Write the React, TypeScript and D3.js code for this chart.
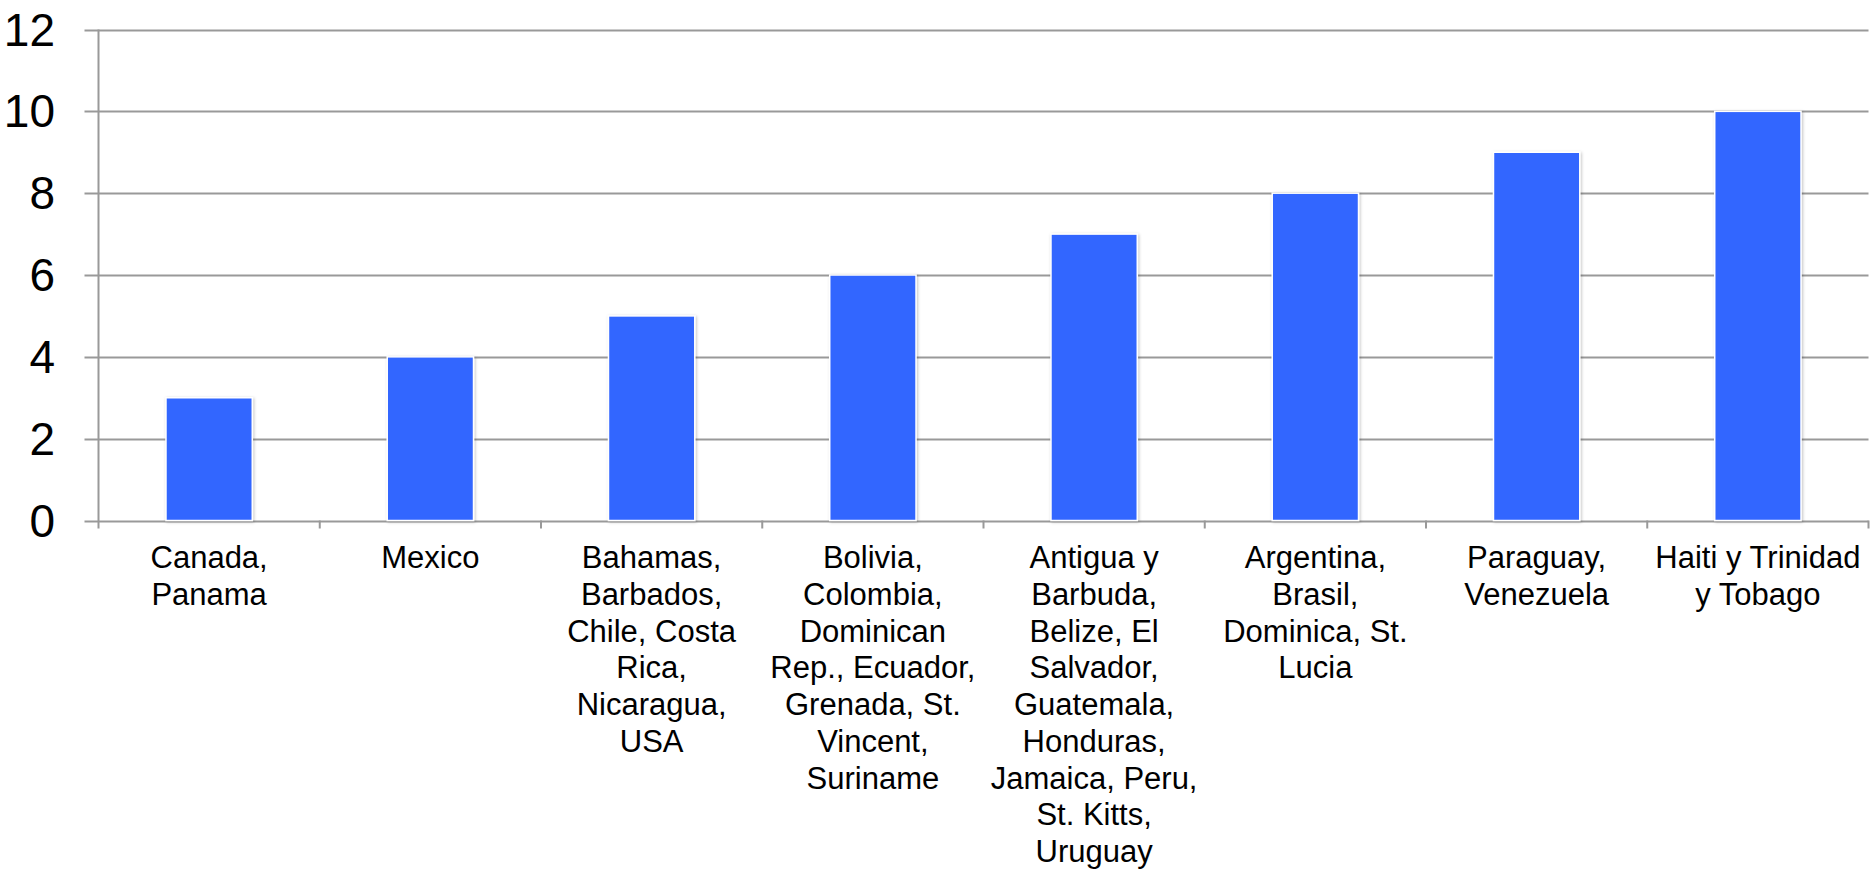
import React, { useRef, useEffect } from 'react';
import * as d3 from 'd3';

const CATEGORIES: string[] = [
  'Canada,\nPanama',
  'Mexico',
  'Bahamas,\nBarbados,\nChile, Costa\nRica,\nNicaragua,\nUSA',
  'Bolivia,\nColombia,\nDominican\nRep., Ecuador,\nGrenada, St.\nVincent,\nSuriname',
  'Antigua y\nBarbuda,\nBelize, El\nSalvador,\nGuatemala,\nHonduras,\nJamaica, Peru,\nSt. Kitts,\nUruguay',
  'Argentina,\nBrasil,\nDominica, St.\nLucia',
  'Paraguay,\nVenezuela',
  'Haiti y Trinidad\ny Tobago',
];

const VALUES: number[] = [3, 4, 5, 6, 7, 8, 9, 10];

const Y_TICKS: number[] = [0, 2, 4, 6, 8, 10, 12];

const W = 1876;
const H = 870;

const App: React.FC = () => {
  const svgRef = useRef<SVGSVGElement>(null);

  useEffect(() => {
    if (!svgRef.current) return;
    const svg = d3.select(svgRef.current);
    svg.selectAll('*').remove();

    const left = 98.5;
    const right = 1868.5;
    const top = 29.5;
    const bottom = 520.5;
    const font = '"Liberation Sans", Arial, sans-serif';

    const x = d3.scaleBand<number>()
      .domain(d3.range(CATEGORIES.length))
      .range([left, right])
      .paddingInner(0.61)
      .paddingOuter(0.305);
    const y = d3.scaleLinear().domain([0, 12]).range([bottom, top]);

    // shadow for bars
    const defs = svg.append('defs');
    const f = defs.append('filter').attr('id', 'barShadow')
      .attr('x', '-20%').attr('y', '-10%').attr('width', '140%').attr('height', '120%');
    f.append('feDropShadow')
      .attr('dx', 1).attr('dy', 1).attr('stdDeviation', 1.5)
      .attr('flood-color', '#000').attr('flood-opacity', 0.25);

    // gridlines (with left tick stubs)
    svg.append('g')
      .selectAll('line')
      .data(Y_TICKS)
      .join('line')
      .attr('x1', left - 14)
      .attr('x2', right)
      .attr('y1', d => Math.round(y(d)) + 0.5)
      .attr('y2', d => Math.round(y(d)) + 0.5)
      .attr('stroke', '#999')
      .attr('stroke-width', 2);

    // y axis line
    svg.append('line')
      .attr('x1', left).attr('x2', left)
      .attr('y1', top).attr('y2', bottom + 8)
      .attr('stroke', '#999').attr('stroke-width', 2);

    // x ticks at band boundaries
    const boundaries = d3.range(CATEGORIES.length + 1).map(i => left + i * x.step());
    svg.append('g')
      .selectAll('line')
      .data(boundaries.slice(1))
      .join('line')
      .attr('x1', d => d).attr('x2', d => d)
      .attr('y1', bottom).attr('y2', bottom + 8)
      .attr('stroke', '#999').attr('stroke-width', 2);

    // bars
    svg.append('g')
      .selectAll('rect')
      .data(VALUES)
      .join('rect')
      .attr('x', (_, i) => x(i)!)
      .attr('y', d => y(d))
      .attr('width', x.bandwidth())
      .attr('height', d => y(0) - y(d))
      .attr('fill', '#3366FF')
      .attr('stroke', '#fff')
      .attr('stroke-width', 1.5)
      .attr('filter', 'url(#barShadow)');

    // y labels
    svg.append('g')
      .selectAll('text')
      .data(Y_TICKS)
      .join('text')
      .attr('x', 55)
      .attr('y', d => y(d))
      .attr('dy', '0.35em')
      .attr('text-anchor', 'end')
      .attr('font-family', font)
      .attr('font-size', 46)
      .attr('fill', '#000')
      .text(d => String(d));

    // x labels
    const labels = svg.append('g')
      .selectAll('text')
      .data(CATEGORIES)
      .join('text')
      .attr('text-anchor', 'middle')
      .attr('font-family', font)
      .attr('font-size', 31)
      .attr('fill', '#000');
    labels.each(function (d, i) {
      const t = d3.select(this);
      const cx = x(i)! + x.bandwidth() / 2;
      d.split('\n').forEach((line, j) => {
        t.append('tspan')
          .attr('x', cx)
          .attr('y', 568 + j * 36.75)
          .text(line);
      });
    });
  }, []);

  return (
    <svg
      ref={svgRef}
      width={W}
      height={H}
      style={{ position: 'absolute', left: 0, top: 0, background: '#fff' }}
    />
  );
};

export default App;
